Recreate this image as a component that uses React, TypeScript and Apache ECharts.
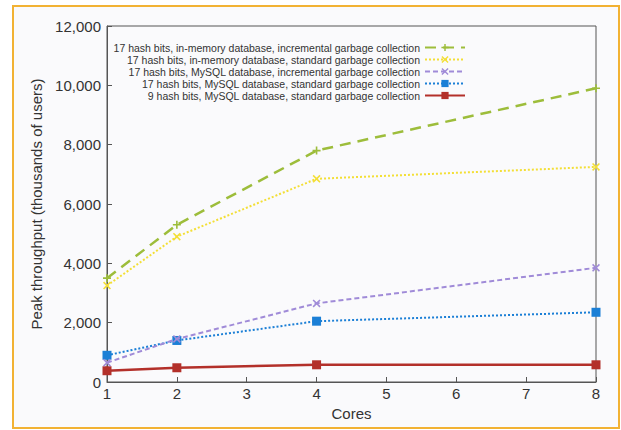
import React, { useEffect, useRef } from "react";
import * as echarts from "echarts";

const cores = [1, 2, 4, 8];
const seriesNames = [
  "17 hash bits, in-memory database, incremental garbage collection",
  "17 hash bits, in-memory database, standard garbage collection",
  "17 hash bits, MySQL database, incremental garbage collection",
  "17 hash bits, MySQL database, standard garbage collection",
  "9 hash bits, MySQL database, standard garbage collection",
];
const memIncremental = [3500, 5300, 7800, 9900];
const memStandard = [3250, 4900, 6850, 7250];
const sqlIncremental = [650, 1450, 2650, 3850];
const sqlStandard = [900, 1400, 2050, 2350];
const sql9Standard = [380, 480, 580, 580];
const xTicks = [1, 2, 3, 4, 5, 6, 7, 8];
const yTicks = [0, 2000, 4000, 6000, 8000, 10000, 12000];

const PLUS = "path://M4,0 L6,0 L6,4 L10,4 L10,6 L6,6 L6,10 L4,10 L4,6 L0,6 L0,4 L4,4 Z";
const CROSS = "path://M0,1.4 L1.4,0 L5,3.6 L8.6,0 L10,1.4 L6.4,5 L10,8.6 L8.6,10 L5,6.4 L1.4,10 L0,8.6 L3.6,5 Z";

const FONT = "Liberation Sans, Arial, Helvetica, sans-serif";

export default function App() {
  const ref = useRef<HTMLDivElement>(null);
  useEffect(() => {
    if (!ref.current) return;
    const chart = echarts.init(ref.current, null, { renderer: "svg" });
    const values = [memIncremental, memStandard, sqlIncremental, sqlStandard, sql9Standard];
    const styles = [
      { color: "#9dbd3b", type: [11, 7], width: 2.5, symbol: PLUS, size: 8 },
      { color: "#f3df36", type: [2, 2], width: 2, symbol: CROSS, size: 8 },
      { color: "#a08bd8", type: [5, 3], width: 2, symbol: CROSS, size: 8 },
      { color: "#1b7fd6", type: [2, 2], width: 2, symbol: "rect", size: 9 },
      { color: "#b3302a", type: "solid", width: 2.5, symbol: "rect", size: 9 },
    ];
    chart.setOption({
      animation: false,
      backgroundColor: "#ffffff",
      textStyle: { fontFamily: FONT },
      graphic: [
        {
          type: "rect",
          z: -10,
          silent: true,
          shape: { x: 13, y: 6, width: 606, height: 422 },
          style: { fill: "#fafafc", stroke: "#f2b233", lineWidth: 2 },
        },
      ],
      grid: {
        left: 107,
        right: 25,
        top: 26,
        bottom: 48,
        show: true,
        backgroundColor: "#fafafc",
        borderColor: "#555",
        borderWidth: 1,
      },
      legend: {
        orient: "vertical",
        align: "right",
        right: 150,
        top: 37,
        itemWidth: 40,
        itemHeight: 9,
        itemGap: 1,
        data: seriesNames,
        textStyle: { fontSize: 10.5, color: "#333", fontFamily: FONT },
      },
      xAxis: {
        type: "value",
        min: 1,
        max: 8,
        interval: 1,
        name: "Cores",
        nameLocation: "middle",
        nameGap: 19,
        nameTextStyle: { fontSize: 15, color: "#333", fontFamily: FONT },
        axisLine: { show: true, lineStyle: { color: "#555", width: 1 } },
        axisTick: { show: true, inside: true, length: 5, lineStyle: { color: "#555" } },
        axisLabel: {
          fontSize: 15,
          color: "#333",
          margin: 4,
          formatter: (v: number) => (xTicks.includes(v) ? String(v) : ""),
        },
        splitLine: { show: false },
      },
      yAxis: {
        type: "value",
        min: 0,
        max: 12000,
        interval: 2000,
        name: "Peak throughput (thousands of users)",
        nameLocation: "middle",
        nameGap: 55,
        nameTextStyle: { fontSize: 15, color: "#333", fontFamily: FONT },
        axisLine: { show: true, lineStyle: { color: "#555", width: 1 } },
        axisTick: { show: true, inside: true, length: 5, lineStyle: { color: "#555" } },
        axisLabel: {
          fontSize: 15,
          color: "#333",
          margin: 6,
          formatter: (v: number) => (yTicks.includes(v) ? v.toLocaleString("en-US") : ""),
        },
        splitLine: { show: false },
      },
      series: seriesNames.map((name, i) => ({
        name,
        type: "line",
        data: cores.map((c, j) => [c, values[i][j]]),
        symbol: styles[i].symbol,
        symbolSize: styles[i].size,
        showSymbol: true,
        itemStyle: { color: styles[i].color },
        lineStyle: { color: styles[i].color, width: styles[i].width, type: styles[i].type },
        z: 10 - i,
      })),
    });
    return () => chart.dispose();
  }, []);
  return (
    <div
      ref={ref}
      style={{ position: "fixed", left: 0, top: 0, width: 621, height: 430 }}
    />
  );
}
